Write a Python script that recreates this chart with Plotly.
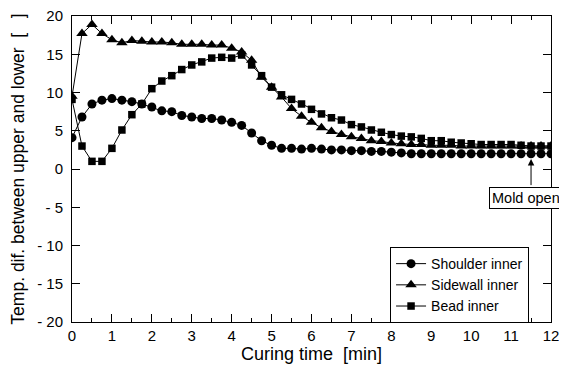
import plotly.graph_objects as go

time_min = [i * 0.25 for i in range(49)]
shoulder = [4.1, 6.8, 8.5, 9.0, 9.2, 9.0, 8.8, 8.5, 8.1, 7.6,
            7.5, 7.0, 6.8, 6.6, 6.6, 6.4, 6.1, 5.7, 4.7, 3.7,
            3.1, 2.7, 2.7, 2.6, 2.7, 2.6, 2.5, 2.5, 2.4, 2.4,
            2.3, 2.3, 2.2, 2.1, 2.0, 2.0, 2.0, 2.0, 2.0, 2.0,
            2.0, 2.0, 2.0, 2.0, 2.0, 2.0, 2.0, 2.0, 2.0]
sidewall = [9.5, 17.7, 18.9, 17.7, 16.9, 16.5, 16.8, 16.7, 16.6, 16.6,
            16.5, 16.3, 16.3, 16.3, 16.2, 16.2, 15.8, 15.3, 14.2, 12.0,
            10.7, 9.4, 7.9, 6.9, 6.1, 5.4, 4.9, 4.5, 4.2, 4.0,
            3.7, 3.6, 3.4, 3.3, 3.2, 3.2, 3.1, 3.1, 3.1, 3.0,
            3.0, 3.0, 3.0, 3.0, 3.0, 3.0, 3.0, 3.0, 3.0]
bead = [9.1, 3.0, 1.0, 1.0, 2.7, 5.1, 7.1, 8.5, 10.5, 11.5,
        12.2, 13.0, 13.6, 14.0, 14.5, 14.6, 14.5, 14.9, 13.6, 12.2,
        10.7, 9.7, 9.1, 8.5, 7.8, 7.2, 6.7, 6.4, 5.8, 5.5,
        5.1, 4.8, 4.5, 4.3, 4.2, 4.0, 3.7, 3.7, 3.5, 3.4,
        3.3, 3.2, 3.2, 3.2, 3.2, 3.1, 3.0, 3.0, 3.0]

x_ticks = list(range(0, 13))
y_ticks = [20, 15, 10, 5, 0, -5, -10, -15, -20]
y_tick_labels = ["20", "15", "10", "5", "0", "- 5", "- 10", "- 15", "- 20"]
mold_open_time = 11.5
mold_open_label_x = 10.45
mold_open_label_y = -2.3
mold_open_arrow_tip = 1.3

FONT = "Liberation Sans, Arial, sans-serif"

fig = go.Figure()
series = [
    ("Shoulder inner", shoulder, "circle", 9),
    ("Sidewall inner", sidewall, "triangle-up", 10),
    ("Bead inner", bead, "square", 7.5),
]
for name, vals, sym, sz in series:
    fig.add_trace(go.Scatter(
        x=time_min, y=vals, name=name, mode="lines+markers",
        line=dict(color="black", width=1),
        marker=dict(symbol=sym, size=sz, color="black"),
    ))

fig.add_annotation(
    x=mold_open_time, y=mold_open_arrow_tip,
    ax=mold_open_time, ay=mold_open_label_y,
    xref="x", yref="y", axref="x", ayref="y",
    text="", showarrow=True, arrowhead=2, arrowsize=1.3, arrowwidth=1,
    arrowcolor="black",
)
fig.add_annotation(
    x=mold_open_label_x, y=mold_open_label_y, xref="x", yref="y",
    text="Mold open", showarrow=False, yanchor="top", xanchor="left",
    font=dict(family=FONT, size=14.5, color="black"),
    bordercolor="black", borderwidth=1, bgcolor="white", borderpad=2,
)

fig.update_layout(
    width=559, height=364,
    margin=dict(l=64, r=16, t=8, b=50, autoexpand=False),
    paper_bgcolor="white", plot_bgcolor="white",
    font=dict(family=FONT, size=15, color="black"),
    showlegend=True,
    legend=dict(
        x=0.664, y=0.245, xanchor="left", yanchor="top",
        bordercolor="black", borderwidth=1, bgcolor="white",
        font=dict(family=FONT, size=14), tracegroupgap=0,
        itemwidth=30,
    ),
    xaxis=dict(
        range=[0, 12], tickvals=x_ticks, ticks="inside", ticklen=8,
        tickcolor="black", showline=True, linecolor="black", linewidth=1,
        mirror="allticks", showgrid=False, zeroline=False,
        minor=dict(dtick=0.5, ticks="inside", ticklen=4, tickcolor="black"),
        title=dict(text="Curing time  [min]", standoff=4,
                   font=dict(family=FONT, size=18)),
        tickfont=dict(family=FONT, size=15),
        ticklabeloverflow="allow",
        automargin=False,
    ),
    yaxis=dict(
        range=[-20, 20], tickvals=y_ticks, ticktext=y_tick_labels,
        ticks="inside", ticklen=8, tickcolor="black",
        showline=True, linecolor="black", linewidth=1,
        mirror="allticks", showgrid=False, zeroline=False,
        ticklabelstandoff=5,
        title=dict(text="Temp. dif. between upper and lower  [   ]",
                   standoff=11, font=dict(family=FONT, size=17.5)),
        tickfont=dict(family=FONT, size=15),
        ticklabeloverflow="allow",
        automargin=False,
    ),
)

fig.write_html("out.html")
